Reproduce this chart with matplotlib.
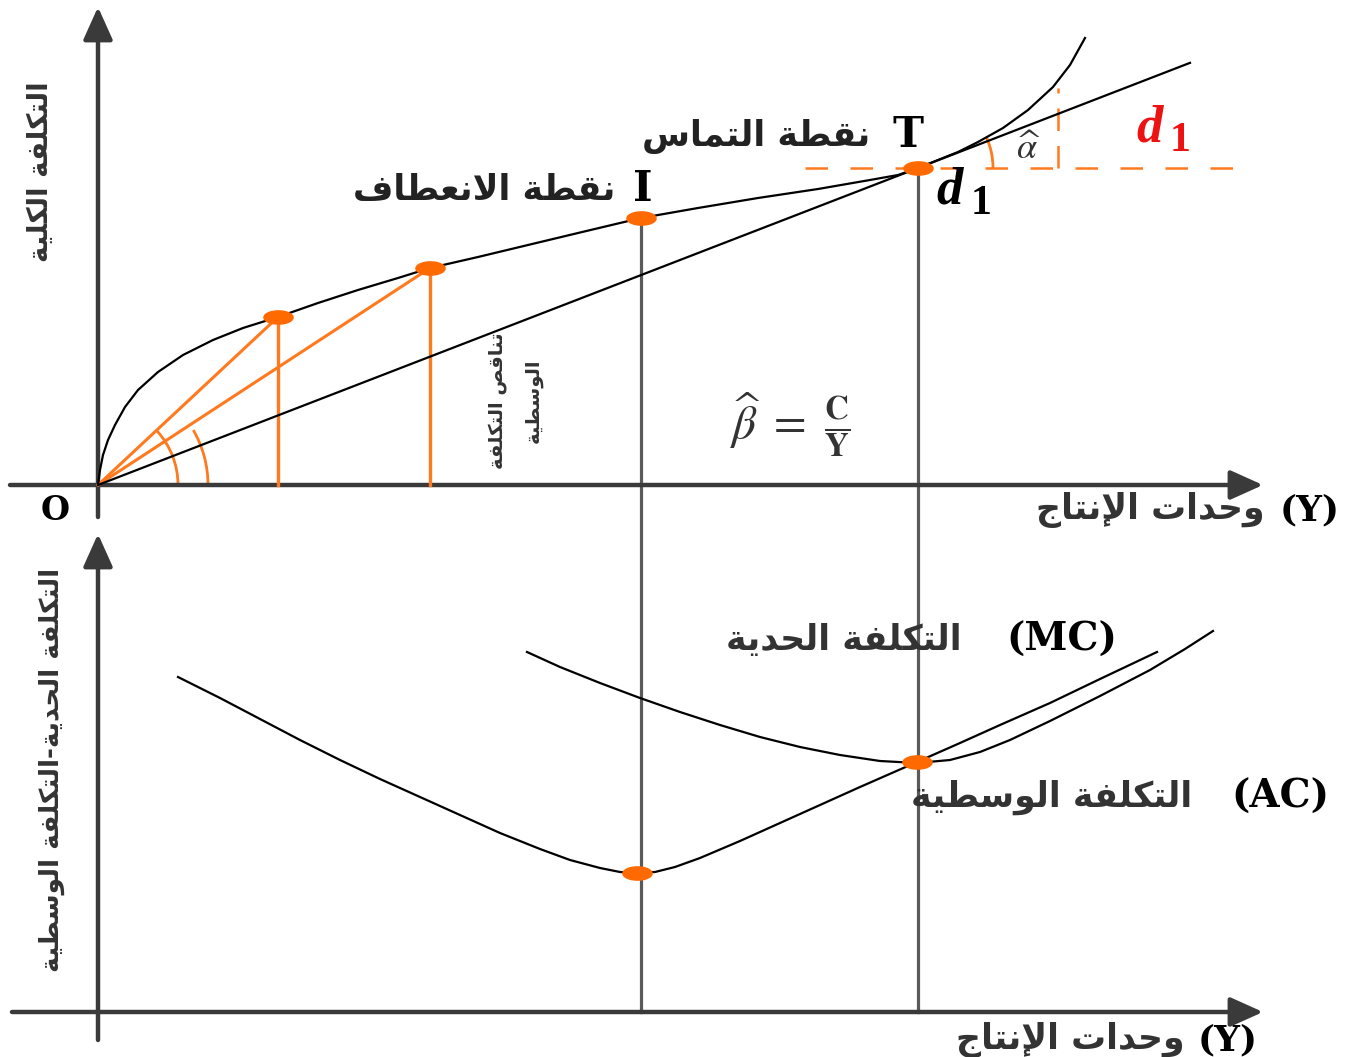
import numpy as np
import matplotlib
matplotlib.use("Agg")
import matplotlib.pyplot as plt
from matplotlib.path import Path
from matplotlib.patches import Arc

# ---------------- data ----------------
# Top panel: total cost curve TC(Y)
tc_y = [0, 2, 5, 10, 17, 27, 40, 60, 85, 115, 145, 180, 220, 260, 300, 332, 380,
        430, 480, 543, 600, 660, 720, 772, 800, 820, 840, 860, 880, 905, 930, 955,
        972, 987]
tc_c = [0, 15, 30, 45, 60, 78, 95, 113, 130, 145, 157, 168, 182, 195, 207, 217, 228,
        240, 252, 267, 277, 287, 296, 305, 310, 317, 325, 333, 343, 357, 375, 398,
        420, 447]
# Points on TC: two average-cost rays, inflection point I, tangency point T
ray_pts_y = [180, 332]
ray_pts_c = [168, 217]
I_pt = (543, 267)
T_pt = (820, 317)
tangent_end_y = 1092
# Bottom panel: marginal cost (MC) and average cost (AC)
mc_y = [80, 122, 162, 202, 242, 282, 322, 362, 402, 442, 472, 502, 522, 539, 557,
        577, 602, 642, 682, 722, 762, 819, 862, 902, 952, 1002, 1059]
mc_c = [335, 314, 293, 272, 252, 233, 215, 197, 179, 163, 152, 144, 140, 139, 140,
        145, 154, 171, 189, 207, 225, 250, 269, 287, 309, 333, 360]
ac_y = [429, 462, 502, 542, 582, 622, 662, 702, 742, 782, 819, 852, 882, 912, 952,
        1002, 1052, 1087, 1115]
ac_c = [360, 345, 329, 314, 300, 287, 275, 265, 257, 251, 249, 252, 260, 272, 291,
        316, 342, 363, 381]
mc_min = (539, 139)
ac_min = (819, 250)

# ---------------- minimal Arabic shaping (presentation forms) ----------------
FORMS = {  # isolated, final, initial, medial
    '\u0627': ('\uFE8D', '\uFE8E', None, None),
    '\u0625': ('\uFE87', '\uFE88', None, None),
    '\u0629': ('\uFE93', '\uFE94', None, None),
    '\u062A': ('\uFE95', '\uFE96', '\uFE97', '\uFE98'),
    '\u062C': ('\uFE9D', '\uFE9E', '\uFE9F', '\uFEA0'),
    '\u062D': ('\uFEA1', '\uFEA2', '\uFEA3', '\uFEA4'),
    '\u062F': ('\uFEA9', '\uFEAA', None, None),
    '\u0633': ('\uFEB1', '\uFEB2', '\uFEB3', '\uFEB4'),
    '\u0635': ('\uFEB9', '\uFEBA', '\uFEBB', '\uFEBC'),
    '\u0637': ('\uFEC1', '\uFEC2', '\uFEC3', '\uFEC4'),
    '\u0639': ('\uFEC9', '\uFECA', '\uFECB', '\uFECC'),
    '\u0641': ('\uFED1', '\uFED2', '\uFED3', '\uFED4'),
    '\u0642': ('\uFED5', '\uFED6', '\uFED7', '\uFED8'),
    '\u0643': ('\uFED9', '\uFEDA', '\uFEDB', '\uFEDC'),
    '\u0644': ('\uFEDD', '\uFEDE', '\uFEDF', '\uFEE0'),
    '\u0645': ('\uFEE1', '\uFEE2', '\uFEE3', '\uFEE4'),
    '\u0646': ('\uFEE5', '\uFEE6', '\uFEE7', '\uFEE8'),
    '\u0648': ('\uFEED', '\uFEEE', None, None),
    '\u064A': ('\uFEF1', '\uFEF2', '\uFEF3', '\uFEF4'),
}
LAM_ALEF = {'\u0627': ('\uFEFB', '\uFEFC'), '\u0625': ('\uFEF9', '\uFEFA')}


def shape(s):
    out, i, n, prev = [], 0, len(s), False
    while i < n:
        c = s[i]
        if c not in FORMS:
            out.append(c); prev = False; i += 1; continue
        if c == '\u0644' and i + 1 < n and s[i + 1] in LAM_ALEF:
            iso, fin = LAM_ALEF[s[i + 1]]
            out.append(fin if prev else iso)
            prev = False; i += 2; continue
        f = FORMS[c]
        nxt = s[i + 1] if i + 1 < n else None
        can_next = f[2] is not None and nxt in FORMS
        if prev and can_next:
            g = f[3]
        elif prev:
            g = f[1]
        elif can_next:
            g = f[2]
        else:
            g = f[0]
        out.append(g); prev = can_next; i += 1
    return ''.join(out)


def ar(s):
    return '\n'.join(shape(line)[::-1] for line in s.split('\n'))


# ---------------- figure ----------------
W, H = 1351, 1057
fig = plt.figure(figsize=(W / 100, H / 100), dpi=100)
fig.patch.set_facecolor('white')
split = 525
ax1 = fig.add_axes([0, 1 - split / H, 1, split / H])
ax2 = fig.add_axes([0, 0, 1, 1 - split / H])
ax1.set_xlim(-98, W - 98); ax1.set_ylim(-(split - 485), 485)
ax2.set_xlim(-98, W - 98); ax2.set_ylim(-45, (H - split) - 45)
for a in (ax1, ax2):
    a.axis('off')

AXC = '#3a3a3a'
ORANGE = '#ff7a1f'
DOT = '#ff6a00'
GRAY = '#5a5a5a'
AFONT = 'DejaVu Sans'
SERIF = 'DejaVu Serif'
TIMES = 'Liberation Serif'

# ellipse marker
t = np.linspace(0, 2 * np.pi, 60)
ell = Path(np.column_stack([np.cos(t) * 2.2, np.sin(t)]))


def arrow(ax, x0, y0, x1, y1):
    ax.annotate('', xy=(x1, y1), xytext=(x0, y0),
                arrowprops=dict(arrowstyle='-|>,head_length=1.0,head_width=0.45',
                                lw=3.2, color=AXC, shrinkA=0, shrinkB=0,
                                mutation_scale=20))


# axes
arrow(ax1, 0, -32, 0, 478)
arrow(ax1, -88, 0, 1165, 0)
arrow(ax2, 0, -28, 0, 478)
arrow(ax2, -86, 0, 1165, 0)

# gray verticals through I and T
for (px, py) in (I_pt, T_pt):
    ax1.plot([px, px], [py, -60], color=GRAY, lw=2.3, zorder=2)
    ax2.plot([px, px], [600, 0], color=GRAY, lw=2.3, zorder=2)

# orange rays and verticals
for x, y in zip(ray_pts_y, ray_pts_c):
    ax1.plot([0, x], [0, y], color=ORANGE, lw=2.2, zorder=3)
    ax1.plot([x, x], [0, y], color=ORANGE, lw=2.4, zorder=3)
# angle arcs at origin
ax1.add_patch(Arc((0, 0), 160, 160, theta1=0, theta2=43, color=ORANGE, lw=2))
ax1.add_patch(Arc((0, 0), 220, 220, theta1=0, theta2=30, color=ORANGE, lw=2))

# tangent ray from origin through T
slope = T_pt[1] / T_pt[0]
ax1.plot([0, tangent_end_y], [0, slope * tangent_end_y], color='black', lw=1.6, zorder=4)

# TC curve
ax1.plot(tc_y, tc_c, color='black', lw=1.6, zorder=4, solid_joinstyle='round')

# dashed d1 construction at T
ax1.plot([T_pt[0] - 113, T_pt[0] + 337], [T_pt[1], T_pt[1]], color=ORANGE, lw=1.8,
         dashes=(9, 9), zorder=2)
ax1.plot([960, 960], [T_pt[1], 397], color=ORANGE, lw=1.8, dashes=(9, 6), zorder=2)
ax1.add_patch(Arc(T_pt, 150, 150, theta1=0, theta2=24, color=ORANGE, lw=2))

# dots top
ax1.plot(ray_pts_y + [I_pt[0], T_pt[0]], ray_pts_c + [I_pt[1], T_pt[1]], ls='none',
         marker=ell, ms=21, color=DOT, zorder=6)

# bottom curves
ax2.plot(mc_y, mc_c, color='black', lw=1.6, zorder=4, solid_joinstyle='round')
ax2.plot(ac_y, ac_c, color='black', lw=1.6, zorder=4, solid_joinstyle='round')
ax2.plot([mc_min[0], ac_min[0]], [mc_min[1], ac_min[1]], ls='none', marker=ell,
         ms=21, color=DOT, zorder=6)

# ---------------- texts ----------------
ax1.text(810, 350, 'T', fontfamily=SERIF, fontweight='bold', fontsize=30,
         ha='center', va='center')
ax1.text(772, 349, ar('نقطة التماس'), fontfamily=AFONT, fontweight='bold',
         fontsize=25, ha='right', va='center', color='#222')
ax1.text(545, 296, 'I', fontfamily=SERIF, fontweight='bold', fontsize=30,
         ha='center', va='center')
ax1.text(517, 295, ar('نقطة الانعطاف'), fontfamily=AFONT, fontweight='bold',
         fontsize=25, ha='right', va='center', color='#222')

# d1 labels
ax1.text(1052, 357, 'd', fontfamily=TIMES, fontweight='bold', fontstyle='italic',
         fontsize=38, color='#ee1111', ha='center', va='center')
ax1.text(1082, 344, '1', fontfamily=TIMES, fontweight='bold', fontsize=30,
         color='#ee1111', ha='center', va='center')
ax1.text(852, 294, 'd', fontfamily=TIMES, fontweight='bold', fontstyle='italic',
         fontsize=38, color='black', ha='center', va='center')
ax1.text(883, 281, '1', fontfamily=TIMES, fontweight='bold', fontsize=30,
         color='black', ha='center', va='center')
ax1.text(930, 336, r'$\widehat{\alpha}$', fontsize=26, color='#333',
         ha='center', va='center', math_fontfamily='stix')

# beta
ax1.text(692, 60, r'$\widehat{\beta}\ =\ \frac{\mathbf{C}}{\mathbf{Y}}$',
         fontsize=34, color='#333', ha='center', va='center',
         math_fontfamily='stix')

# vertical labels
ax1.text(417, 84, ar('تناقص التكلفة\nالوسطية'), fontfamily=AFONT, fontweight='bold',
         rotation=90, fontsize=14, ha='center', va='center', linespacing=2.1,
         color='#333')
ax1.text(-58, 313, ar('التكلفة الكلية'), fontfamily=AFONT, fontweight='bold',
         rotation=90, fontsize=20, ha='center', va='center', color='#333')
ax2.text(-46, 242, ar('التكلفة الحدية-التكلفة الوسطية'), fontfamily=AFONT,
         fontweight='bold', rotation=90, fontsize=19, ha='center', va='center',
         color='#333')

# origin label
ax1.text(-43, -25, 'O', fontfamily=SERIF, fontweight='bold', fontsize=24,
         ha='center', va='center')

# x labels
ax1.text(1167, -25, ar('وحدات الإنتاج'), fontfamily=AFONT, fontweight='bold',
         fontsize=25, ha='right', va='center', color='#333')
ax1.text(1212, -25, '(Y)', fontfamily=SERIF, fontweight='bold', fontsize=26,
         ha='center', va='center')
ax2.text(1087, -28, ar('وحدات الإنتاج'), fontfamily=AFONT, fontweight='bold',
         fontsize=25, ha='right', va='center', color='#333')
ax2.text(1130, -28, '(Y)', fontfamily=SERIF, fontweight='bold', fontsize=26,
         ha='center', va='center')

# curve labels
ax2.text(864, 372, ar('التكلفة الحدية'), fontfamily=AFONT, fontweight='bold',
         fontsize=25, ha='right', va='center', color='#333')
ax2.text(964, 372, '(MC)', fontfamily=SERIF, fontweight='bold', fontsize=28,
         ha='center', va='center')
ax2.text(1094, 215, ar('التكلفة الوسطية'), fontfamily=AFONT, fontweight='bold',
         fontsize=25, ha='right', va='center', color='#333')
ax2.text(1182, 215, '(AC)', fontfamily=SERIF, fontweight='bold', fontsize=28,
         ha='center', va='center')

fig.savefig('out.png', dpi=100, facecolor='white')
